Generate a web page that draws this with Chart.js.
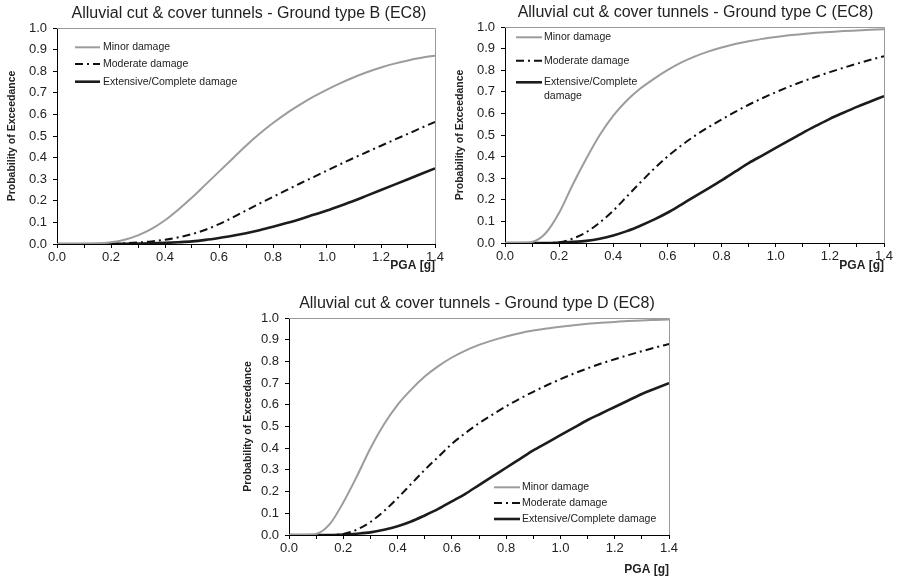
<!DOCTYPE html>
<html>
<head>
<meta charset="utf-8">
<script src="https://cdn.jsdelivr.net/npm/chart.js@4.4.0/dist/chart.umd.min.js"></script>
<style>
  body { margin: 0; background: #fff; width: 897px; height: 578px; position: relative; overflow: hidden;
         font-family: "Liberation Sans", Arial, sans-serif; }
  canvas { position: absolute; }
  .ttl { position: absolute; font-size: 16px; line-height: 19px; text-align: center; color: #222; white-space: nowrap; }
</style>
</head>
<body>
<canvas id="cB" width="448" height="290" style="left:0;top:0"></canvas>
<canvas id="cC" width="449" height="290" style="left:448px;top:0"></canvas>
<canvas id="cD" width="480" height="290" style="left:220px;top:288px"></canvas>
<div class="ttl" style="left:57px;top:3px;width:384px">Alluvial cut &amp; cover tunnels - Ground type B (EC8)</div>
<div class="ttl" style="left:505px;top:2px;width:381px">Alluvial cut &amp; cover tunnels - Ground type C (EC8)</div>
<div class="ttl" style="left:289px;top:293px;width:376px">Alluvial cut &amp; cover tunnels - Ground type D (EC8)</div>
<script>
// PGA [g] sampling points
const pga = [0, 0.05, 0.1, 0.15, 0.2, 0.25, 0.3, 0.35, 0.4, 0.45, 0.5, 0.55, 0.6, 0.65, 0.7,
             0.75, 0.8, 0.85, 0.9, 0.95, 1.0, 1.05, 1.1, 1.15, 1.2, 1.25, 1.3, 1.35, 1.4];

const damageLabels = ['Minor damage', 'Moderate damage', 'Extensive/Complete damage'];

// Ground type B
const minorB     = [0, 0, 0, 0.002, 0.008, 0.02, 0.04, 0.07, 0.11, 0.16, 0.215, 0.275, 0.335, 0.395, 0.455,
                    0.51, 0.56, 0.605, 0.645, 0.682, 0.715, 0.745, 0.772, 0.796, 0.817, 0.835, 0.85, 0.862, 0.872];
const moderateB  = [0, 0, 0, 0, 0.001, 0.003, 0.007, 0.012, 0.02, 0.031, 0.046, 0.066, 0.092, 0.122, 0.155,
                    0.187, 0.218, 0.249, 0.28, 0.31, 0.34, 0.37, 0.399, 0.427, 0.455, 0.483, 0.51, 0.538, 0.565];
const extensiveB = [0, 0, 0, 0, 0, 0.001, 0.002, 0.003, 0.005, 0.008, 0.012, 0.019, 0.028, 0.038, 0.05,
                    0.064, 0.08, 0.097, 0.115, 0.135, 0.155, 0.177, 0.20, 0.225, 0.25, 0.275, 0.30, 0.325, 0.35];

// Ground type C
const minorC     = [0, 0, 0.005, 0.045, 0.14, 0.27, 0.39, 0.50, 0.59, 0.66, 0.715, 0.76, 0.80, 0.835, 0.863,
                    0.886, 0.905, 0.921, 0.934, 0.945, 0.954, 0.962, 0.968, 0.973, 0.977, 0.981, 0.984, 0.987, 0.99];
const moderateC  = [0, 0, 0, 0, 0.003, 0.02, 0.05, 0.095, 0.15, 0.215, 0.28, 0.343, 0.40, 0.45, 0.495,
                    0.535, 0.572, 0.607, 0.64, 0.67, 0.698, 0.724, 0.748, 0.77, 0.791, 0.811, 0.83, 0.848, 0.865];
const extensiveC = [0, 0, 0, 0, 0.002, 0.005, 0.01, 0.02, 0.035, 0.055, 0.08, 0.108, 0.14, 0.177, 0.215,
                    0.252, 0.29, 0.33, 0.37, 0.405, 0.44, 0.475, 0.51, 0.543, 0.575, 0.603, 0.63, 0.655, 0.68];

// Ground type D
const minorD     = [0, 0, 0.005, 0.05, 0.15, 0.27, 0.40, 0.51, 0.60, 0.67, 0.73, 0.778, 0.818, 0.85, 0.876,
                    0.897, 0.915, 0.93, 0.942, 0.952, 0.96, 0.967, 0.973, 0.978, 0.982, 0.986, 0.989, 0.991, 0.993];
const moderateD  = [0, 0, 0, 0, 0.005, 0.025, 0.06, 0.11, 0.17, 0.235, 0.30, 0.36, 0.42, 0.47, 0.515,
                    0.555, 0.593, 0.628, 0.66, 0.69, 0.718, 0.744, 0.768, 0.79, 0.81, 0.829, 0.847, 0.864, 0.88];
const extensiveD = [0, 0, 0, 0, 0.002, 0.006, 0.012, 0.024, 0.04, 0.062, 0.09, 0.12, 0.155, 0.19, 0.23,
                    0.27, 0.31, 0.35, 0.39, 0.425, 0.46, 0.495, 0.53, 0.56, 0.59, 0.62, 0.65, 0.675, 0.70];

const FONT = '"Liberation Sans", Arial, sans-serif';

const lineStyles = [
    { borderColor: '#9c9c9c', borderWidth: 2,   borderDash: [] },           // minor
    { borderColor: '#111111', borderWidth: 2,   borderDash: [8, 4, 2, 4] }, // moderate
    { borderColor: '#1c1c1c', borderWidth: 2.6, borderDash: [] }            // extensive/complete
];

// gray top/right frame + legend drawn inside the plot
const frameLegend = {
    id: 'frameLegend',
    afterDraw(chart, args, opts) {
        const { ctx, chartArea: a } = chart;
        ctx.save();
        ctx.strokeStyle = '#9a9a9a';
        ctx.lineWidth = 1;
        ctx.beginPath();
        ctx.moveTo(a.left, a.top + 0.5);
        ctx.lineTo(Math.round(a.right) + 0.5, a.top + 0.5);
        ctx.lineTo(Math.round(a.right) + 0.5, a.bottom);
        ctx.stroke();

        ctx.font = '10.5px ' + FONT;
        ctx.textBaseline = 'middle';
        ctx.fillStyle = '#222';
        chart.data.datasets.forEach((ds, i) => {
            const y = opts.ys[i];
            ctx.strokeStyle = ds.borderColor;
            ctx.lineWidth = ds.borderWidth;
            ctx.setLineDash(ds.borderDash || []);
            ctx.beginPath();
            ctx.moveTo(opts.x0, y);
            ctx.lineTo(opts.x1, y);
            ctx.stroke();
            ctx.setLineDash([]);
            let lines = [ds.label];
            if (opts.wrap && i === 2) {
                const k = ds.label.lastIndexOf(' ');
                lines = [ds.label.slice(0, k), ds.label.slice(k + 1)];
            }
            lines.forEach((t, j) => ctx.fillText(t, opts.tx, y + j * 13.5));
        });
        ctx.restore();
    }
};

function makeChart(id, series, L) {
    const datasets = series.map((vals, i) => Object.assign({
        label: damageLabels[i],
        data: pga.map((x, k) => ({ x: x, y: vals[k] })),
        pointRadius: 0,
        cubicInterpolationMode: 'monotone',
        fill: false
    }, lineStyles[i]));

    return new Chart(document.getElementById(id), {
        type: 'line',
        data: { datasets: datasets },
        plugins: [frameLegend],
        options: {
            responsive: false,
            animation: false,
            layout: { padding: { top: L.top, right: L.right, bottom: 0, left: 0 } },
            plugins: {
                legend: { display: false },
                tooltip: { enabled: false },
                frameLegend: L.legend
            },
            scales: {
                x: {
                    type: 'linear',
                    min: 0, max: 1.4,
                    afterFit: s => { s.height = L.xh; },
                    ticks: {
                        stepSize: 0.1,
                        autoSkip: false,
                        maxRotation: 0,
                        padding: 2,
                        color: '#222',
                        font: { family: FONT, size: 13 },
                        callback: v => (Math.round(v * 10) % 2 === 0 ? v.toFixed(1) : '')
                    },
                    grid: { drawOnChartArea: false, tickLength: 4, color: '#000' },
                    border: { color: '#000', width: 1 },
                    title: {
                        display: true, text: 'PGA [g]', align: 'end', color: '#222',
                        font: { family: FONT, size: 12, weight: 'bold' },
                        padding: { top: 0, bottom: L.xtp }
                    }
                },
                y: {
                    min: 0, max: 1,
                    afterFit: s => { s.width = L.yw; },
                    ticks: {
                        stepSize: 0.1,
                        padding: 6,
                        color: '#222',
                        font: { family: FONT, size: 13 },
                        callback: v => v.toFixed(1)
                    },
                    grid: { drawOnChartArea: false, tickLength: 4, color: '#000' },
                    border: { color: '#000', width: 1 },
                    title: {
                        display: true, text: 'Probability of Exceedance', color: '#222',
                        font: { family: FONT, size: 10.5, weight: 'bold' },
                        padding: { top: L.ytp, bottom: 0 }
                    }
                }
            }
        }
    });
}

makeChart('cB', [minorB, moderateB, extensiveB], {
    top: 28, right: 13, xh: 46, yw: 57, xtp: 17, ytp: 6,
    legend: { x0: 75, x1: 100, tx: 103, ys: [47.3, 64, 81.7], wrap: false }
});
makeChart('cC', [minorC, moderateC, extensiveC], {
    top: 27, right: 13, xh: 47, yw: 57, xtp: 17, ytp: 6,
    legend: { x0: 68, x1: 94, tx: 96, ys: [37.3, 60.7, 82.3], wrap: true }
});
makeChart('cD', [minorD, moderateD, extensiveD], {
    top: 30, right: 31, xh: 43, yw: 69, xtp: 1, ytp: 22,
    legend: { x0: 274, x1: 300, tx: 302, ys: [199.3, 215, 231], wrap: false }
});
</script>
</body>
</html>
